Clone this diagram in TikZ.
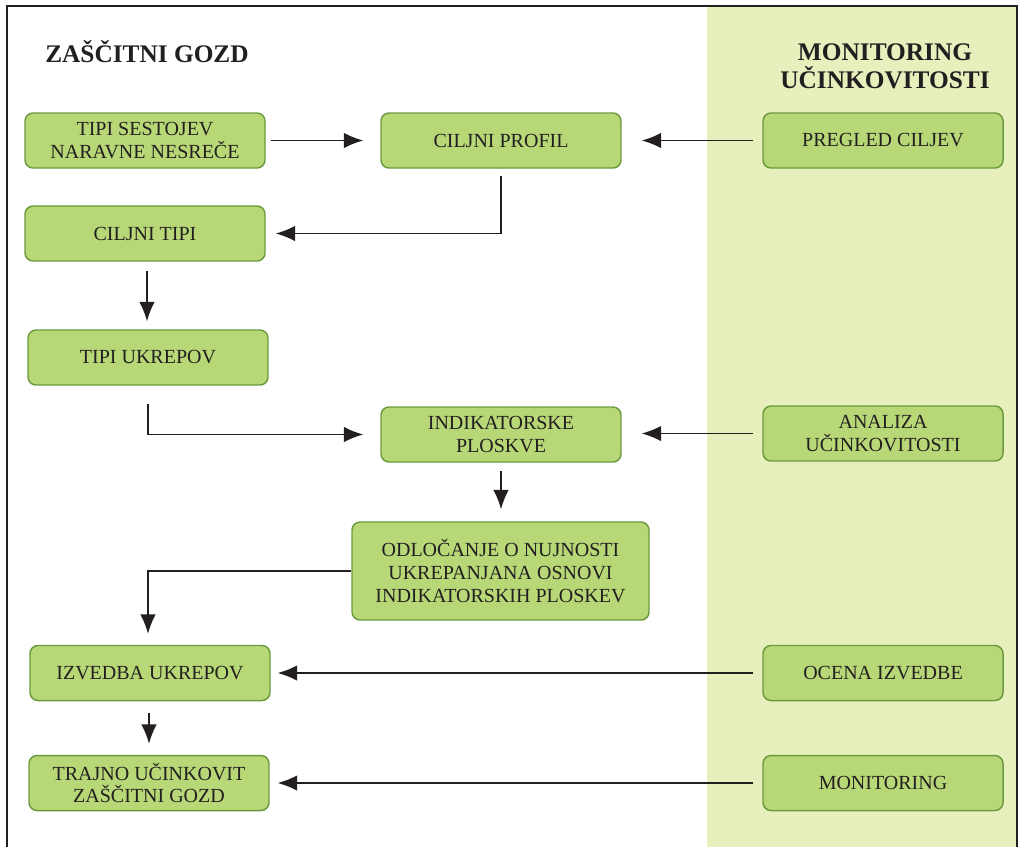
\documentclass[tikz,border=0pt]{standalone}
\usepackage{fontspec}
\setmainfont{Liberation Serif}
\usetikzlibrary{arrows.meta}
\definecolor{boxfill}{HTML}{B8D877}
\definecolor{boxdraw}{HTML}{6B9A3E}
\definecolor{panel}{HTML}{E7EFBD}
\definecolor{ink}{HTML}{231F20}
\tikzset{
  box/.style={draw=boxdraw, line width=1.1pt, fill=boxfill, rounded corners=6pt,
    minimum width=180pt, minimum height=41.25pt, align=center, inner sep=2pt,
    text=ink, font=\fontsize{15}{17}\selectfont},
  conn/.style={draw=ink, line width=1pt, -{Latex[length=14.5pt,width=11.5pt]}},
  title/.style={text=ink, font=\bfseries\fontsize{19}{21}\selectfont, align=center, inner sep=0pt}
}
\begin{document}
\begin{tikzpicture}[x=0.75pt,y=-0.75pt]
\useasboundingbox (0,0) rectangle (1019,847);
\fill[panel] (707,6) rectangle (1017,847);
\draw[ink, line width=1pt] (7,847) -- (7,6) -- (1017,6) -- (1017,847);

\node[title, anchor=west] (t1) at (45,52) {ZAŠČITNI GOZD};
\node[title] (t2) at (885,66) {MONITORING\\UČINKOVITOSTI};

\node[box] (ts) at (145,140.5) {TIPI SESTOJEV\\NARAVNE NESREČE};
\node[box] (cp) at (501,140.5) {CILJNI PROFIL};
\node[box] (pc) at (883,140.5) {PREGLED CILJEV};
\node[box] (ct) at (145,233.5) {CILJNI TIPI};
\node[box] (tu) at (148,357.5) {TIPI UKREPOV};
\node[box] (ip) at (501,434.5) {INDIKATORSKE\\PLOSKVE};
\node[box] (au) at (883,433.5) {ANALIZA\\UČINKOVITOSTI};
\node[box, minimum width=222.75pt, minimum height=73.5pt] (od) at (500.5,571)
  {ODLOČANJE O NUJNOSTI\\UKREPANJANA OSNOVI\\INDIKATORSKIH PLOSKEV};
\node[box] (iu) at (150,673) {IZVEDBA UKREPOV};
\node[box] (oi) at (883,673) {OCENA IZVEDBE};
\node[box] (tr) at (149,783) {TRAJNO UČINKOVIT\\ZAŠČITNI GOZD};
\node[box] (mo) at (883,783) {MONITORING};

\draw[conn, shorten <=3.75pt, shorten >=12.75pt] (ts.east) -- (cp.west);
\draw[conn, shorten <=6.75pt, shorten >=15pt] (pc.west) -- (cp.east);
\draw[conn, shorten <=5.25pt, shorten >=7.5pt] (cp.south) |- (ct.east);
\draw[conn, shorten <=6.75pt, shorten >=6pt] ([xshift=1.5pt]ct.south) -- ([xshift=-0.75pt]tu.north);
\draw[conn, shorten <=13.5pt, shorten >=12.75pt] (tu.south) |- (ip.west);
\draw[conn, shorten <=6.75pt, shorten >=15pt] (au.west) -- ([yshift=0.75pt]ip.east);
\draw[conn, shorten <=6pt, shorten >=9pt] (ip.south) -- ([xshift=0.375pt]od.north);
\draw[conn, shorten >=8.25pt] (od.west) -| ([xshift=-1.5pt]iu.north);
\draw[conn, shorten <=6.75pt, shorten >=5.25pt] (oi.west) -- (iu.east);
\draw[conn, shorten <=9pt, shorten >=8.25pt] ([xshift=-0.75pt]iu.south) -- (tr.north);
\draw[conn, shorten <=6.75pt, shorten >=6pt] (mo.west) -- (tr.east);
\end{tikzpicture}
\end{document}
